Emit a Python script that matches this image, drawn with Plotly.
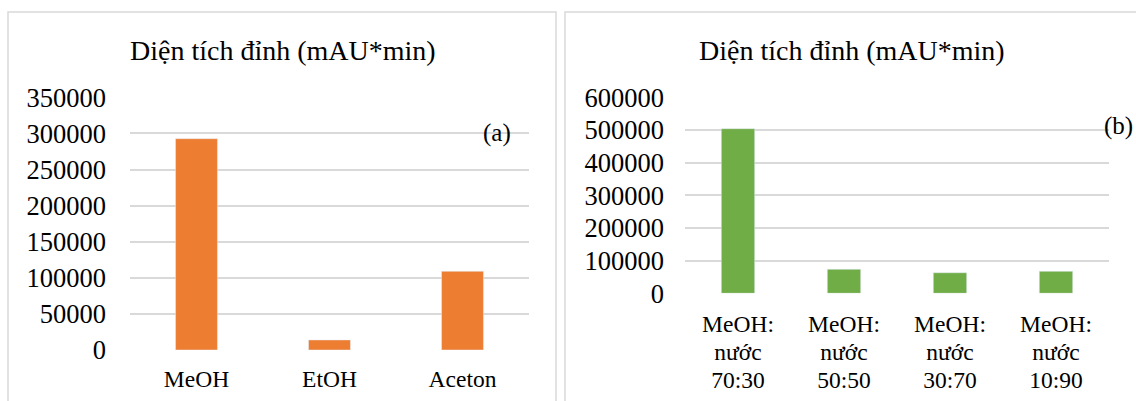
import plotly.graph_objects as go

W, H = 1136, 401

# Peak area by extraction solvent (panel a)
solvents = ["MeOH", "EtOH", "Aceton"]
area_solvent = [292700, 13900, 109000]

# Peak area by MeOH:water ratio (panel b)
ratio_lines = [["MeOH:", "nước", "70:30"], ["MeOH:", "nước", "50:50"],
               ["MeOH:", "nước", "30:70"], ["MeOH:", "nước", "10:90"]]
area_ratio = [504000, 73500, 63000, 67300]

title_text = "Diện tích đỉnh (mAU*min)"

SERIF = "Liberation Serif, Times New Roman, serif"
GRID = "#d9d9d9"
LABEL_PX = 23.5


def px_x(p):
    return p / W


def px_y(p):
    return 1 - p / H


def stacked_label(lines):
    # wrap each line so glyphs are larger than the line pitch of the base font
    return "<br>".join(f'<span style="font-size:{LABEL_PX}px">{s}</span>' for s in lines)


ratio_keys = [" ".join(l) for l in ratio_lines]
ratio_text = [stacked_label(l) for l in ratio_lines]

fig = go.Figure()
fig.add_trace(go.Bar(x=solvents, y=area_solvent, marker_color="#ED7D31",
                     xaxis="x", yaxis="y", showlegend=False))
fig.add_trace(go.Bar(x=ratio_keys, y=area_ratio, marker_color="#70AD47",
                     xaxis="x2", yaxis="y2", showlegend=False))

yax_common = dict(showgrid=True, gridcolor=GRID, gridwidth=1.5, zeroline=False,
                  showline=False, ticks="", tickformat="d", automargin=False,
                  tickfont=dict(family=SERIF, size=26.5, color="black"),
                  fixedrange=True)
xax_common = dict(showgrid=False, zeroline=False, showline=False, ticks="",
                  automargin=False, fixedrange=True)

fig.update_layout(
    width=W, height=H,
    margin=dict(l=0, r=0, t=0, b=0),
    paper_bgcolor="white", plot_bgcolor="white",
    bargap=0.685,
    xaxis=dict(domain=[px_x(130), px_x(529)], anchor="y",
               tickfont=dict(family=SERIF, size=LABEL_PX, color="black"),
               ticklabelstandoff=12, **xax_common),
    yaxis=dict(domain=[px_y(350), px_y(97.3)], anchor="x",
               range=[0, 350000], dtick=50000, ticklabelstandoff=23, **yax_common),
    xaxis2=dict(domain=[px_x(685), px_x(1109)], anchor="y2",
                tickfont=dict(family=SERIF, size=21.5, color="black"),
                tickmode="array", tickvals=ratio_keys, ticktext=ratio_text,
                ticklabelstandoff=16, **xax_common),
    yaxis2=dict(domain=[px_y(293.3), px_y(97.3)], anchor="x2",
                range=[0, 600000], dtick=100000, ticklabelstandoff=20, **yax_common),
)

# Panel frames
for x0, x1 in [(8, 556), (565, 1140)]:
    fig.add_shape(type="rect", xref="paper", yref="paper",
                  x0=px_x(x0), x1=px_x(x1), y0=-0.1, y1=px_y(12),
                  line=dict(color=GRID, width=1.5), fillcolor="rgba(0,0,0,0)",
                  layer="below")

# Panel titles
for cx in [283, 852]:
    fig.add_annotation(text=title_text, xref="paper", yref="paper",
                       x=px_x(cx), y=px_y(51), xanchor="center", yanchor="middle",
                       showarrow=False,
                       font=dict(family=SERIF, size=28, color="black"))

# Panel tags
for tag, cx, cy in [("(a)", 497, 132.5), ("(b)", 1118, 126)]:
    fig.add_annotation(text=tag, xref="paper", yref="paper",
                       x=px_x(cx), y=px_y(cy), xanchor="center", yanchor="middle",
                       showarrow=False,
                       font=dict(family=SERIF, size=25, color="black"))

fig.write_html("out.html")
